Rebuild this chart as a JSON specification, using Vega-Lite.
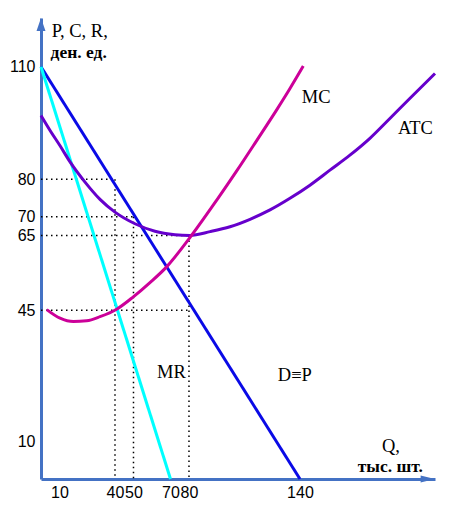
{
  "$schema": "https://vega.github.io/schema/vega-lite/v6.json",
  "description": "Monopoly: demand, MR, MC and ATC curves",
  "width": 394,
  "height": 461,
  "autosize": {"type": "none"},
  "padding": {"left": 41, "top": 18, "right": 18, "bottom": 29},
  "background": "white",
  "datasets": {
    "curves": [
      {"series": "D", "q": 0, "p": 110},
      {"series": "D", "q": 140, "p": 0},
      {"series": "MR", "q": 0, "p": 110},
      {"series": "MR", "q": 70, "p": 0},
      {"series": "ATC", "q": 0, "p": 97},
      {"series": "ATC", "q": 4.9, "p": 93},
      {"series": "ATC", "q": 10.3, "p": 88.9},
      {"series": "ATC", "q": 15.7, "p": 84.6},
      {"series": "ATC", "q": 23.8, "p": 79.2},
      {"series": "ATC", "q": 31.9, "p": 74.6},
      {"series": "ATC", "q": 40, "p": 71.2},
      {"series": "ATC", "q": 50.8, "p": 68.1},
      {"series": "ATC", "q": 61.6, "p": 66.1},
      {"series": "ATC", "q": 72.4, "p": 65.2},
      {"series": "ATC", "q": 80.5, "p": 65},
      {"series": "ATC", "q": 91.4, "p": 66},
      {"series": "ATC", "q": 102.2, "p": 67.3},
      {"series": "ATC", "q": 113, "p": 69.3},
      {"series": "ATC", "q": 123.8, "p": 71.8},
      {"series": "ATC", "q": 134.6, "p": 74.9},
      {"series": "ATC", "q": 145.4, "p": 78.4},
      {"series": "ATC", "q": 156.2, "p": 82.4},
      {"series": "ATC", "q": 167, "p": 86.4},
      {"series": "ATC", "q": 177.8, "p": 90.9},
      {"series": "ATC", "q": 188.6, "p": 96.2},
      {"series": "ATC", "q": 199.5, "p": 101.6},
      {"series": "ATC", "q": 213, "p": 108.2},
      {"series": "MC", "q": 3.1, "p": 45.2},
      {"series": "MC", "q": 10.3, "p": 42.9},
      {"series": "MC", "q": 17.5, "p": 42},
      {"series": "MC", "q": 24.7, "p": 42.2},
      {"series": "MC", "q": 31.9, "p": 43.3},
      {"series": "MC", "q": 40.9, "p": 45.3},
      {"series": "MC", "q": 49.9, "p": 48.6},
      {"series": "MC", "q": 58.9, "p": 52.4},
      {"series": "MC", "q": 67.9, "p": 56.6},
      {"series": "MC", "q": 80.5, "p": 64.4},
      {"series": "MC", "q": 95, "p": 74.4},
      {"series": "MC", "q": 105.8, "p": 82.2},
      {"series": "MC", "q": 116.6, "p": 90.3},
      {"series": "MC", "q": 127.4, "p": 98.5},
      {"series": "MC", "q": 134.6, "p": 104.2},
      {"series": "MC", "q": 141.8, "p": 110.2}
    ],
    "guides": [
      {"seg": "h80", "q": 0, "p": 80},
      {"seg": "h80", "q": 40, "p": 80},
      {"seg": "v40", "q": 40, "p": 80},
      {"seg": "v40", "q": 40, "p": 0},
      {"seg": "h70", "q": 0, "p": 70},
      {"seg": "h70", "q": 50, "p": 70},
      {"seg": "v50", "q": 50, "p": 70},
      {"seg": "v50", "q": 50, "p": 0},
      {"seg": "h65", "q": 0, "p": 65},
      {"seg": "h65", "q": 80, "p": 65},
      {"seg": "v80", "q": 80, "p": 65},
      {"seg": "v80", "q": 80, "p": 0},
      {"seg": "h45", "q": 0, "p": 45},
      {"seg": "h45", "q": 80, "p": 45}
    ],
    "labels": [
      {"text": "P, C, R,", "q": 5.8, "p": 117.9},
      {"text": "MC", "q": 141, "p": 100.3},
      {"text": "ATC", "q": 193, "p": 92.1},
      {"text": "MR", "q": 62.7, "p": 27},
      {"text": "D≡P", "q": 128, "p": 26.2},
      {"text": "Q,", "q": 184.3, "p": 7.2}
    ],
    "units": [
      {"text": "ден. ед.", "q": 5.2, "p": 112.3},
      {"text": "тыс. шт.", "q": 171.2, "p": 1.9}
    ]
  },
  "encoding": {
    "x": {
      "field": "q",
      "type": "quantitative",
      "scale": {"domain": [0, 213], "nice": false, "zero": false},
      "axis": {
        "values": [10, 40, 50, 70, 80, 140],
        "title": null,
        "grid": false,
        "ticks": false,
        "tickSize": 0,
        "labelPadding": 5,
        "labelOverlap": false,
        "labelFlush": false,
        "labelFont": "Liberation Sans",
        "labelFontSize": 16,
        "labelColor": "black",
        "domainColor": "#4472C4",
        "domainWidth": 3
      }
    },
    "y": {
      "field": "p",
      "type": "quantitative",
      "scale": {"domain": [0, 123], "nice": false, "zero": false},
      "axis": {
        "values": [10, 45, 65, 70, 80, 110],
        "title": null,
        "grid": false,
        "ticks": false,
        "tickSize": 0,
        "labelPadding": 6,
        "labelOverlap": false,
        "labelFlush": false,
        "labelFont": "Liberation Sans",
        "labelFontSize": 16,
        "labelColor": "black",
        "domainColor": "#4472C4",
        "domainWidth": 3
      }
    }
  },
  "layer": [
    {
      "data": {"name": "guides"},
      "mark": {"type": "line", "color": "black", "strokeWidth": 1.5, "strokeDash": [1.5, 3.5]},
      "encoding": {"detail": {"field": "seg", "type": "nominal"}}
    },
    {
      "data": {"name": "curves"},
      "mark": {"type": "line", "strokeWidth": 3, "interpolate": "monotone"},
      "encoding": {
        "color": {
          "field": "series",
          "type": "nominal",
          "scale": {"domain": ["D", "MR", "MC", "ATC"], "range": ["#0A0AE6", "#00FFFF", "#CC0099", "#6600CC"]},
          "legend": null
        }
      }
    },
    {
      "data": {"values": [{"q": 0, "p": 123}]},
      "mark": {"type": "point", "shape": "M0,0L0.75,2.15L-0.75,2.15Z", "size": 144, "filled": true, "opacity": 1, "color": "#4472C4"}
    },
    {
      "data": {"values": [{"q": 213, "p": 0}]},
      "mark": {"type": "point", "shape": "M0,0L-2.4,-0.6L-2.4,0.6Z", "size": 144, "filled": true, "opacity": 1, "color": "#4472C4"}
    },
    {
      "data": {"name": "labels"},
      "mark": {"type": "text", "align": "left", "baseline": "alphabetic", "font": "Liberation Serif", "fontSize": 18.5, "color": "black"},
      "encoding": {"text": {"field": "text"}}
    },
    {
      "data": {"name": "units"},
      "mark": {"type": "text", "align": "left", "baseline": "alphabetic", "font": "Liberation Serif", "fontSize": 17.5, "fontWeight": "bold", "color": "black"},
      "encoding": {"text": {"field": "text"}}
    }
  ],
  "config": {
    "view": {"stroke": null}
  }
}
